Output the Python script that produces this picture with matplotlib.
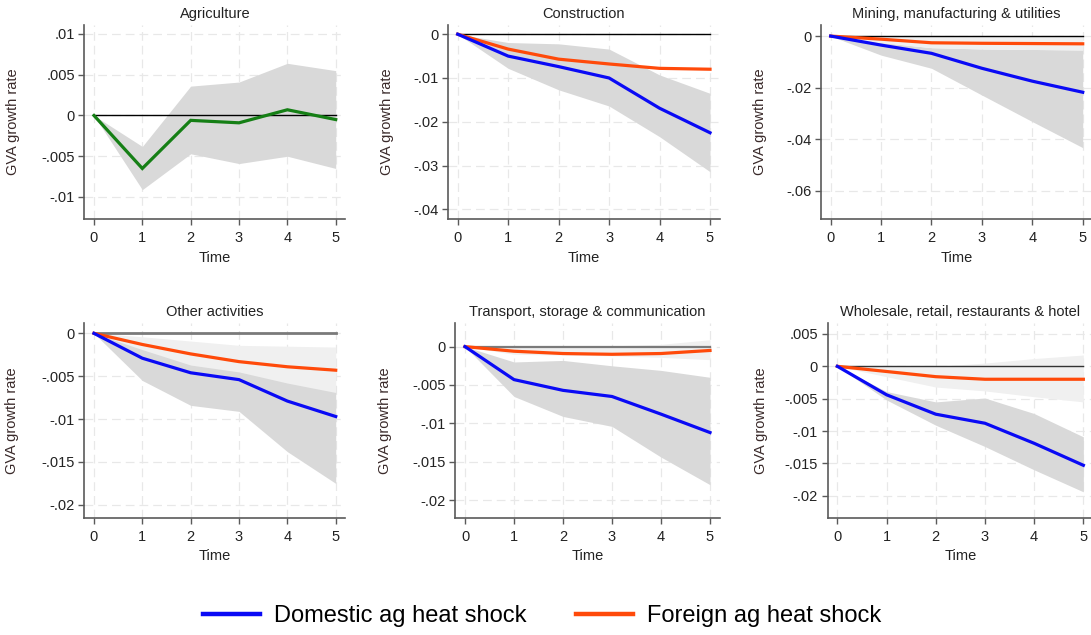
import matplotlib
matplotlib.use("Agg")
import matplotlib.pyplot as plt
from matplotlib.lines import Line2D
from matplotlib.ticker import FixedLocator, FuncFormatter

plt.rcParams['font.family'] = ['Liberation Sans', 'DejaVu Sans']
plt.rcParams['axes.unicode_minus'] = False

# ---------------- data ----------------
time = [0, 1, 2, 3, 4, 5]

# Agriculture (single estimate with CI)
agri_est = [0, -0.0065, -0.0006, -0.0009, 0.0007, -0.0005]
agri_hi = [0, -0.0038, 0.0036, 0.0041, 0.0064, 0.0055]
agri_lo = [0, -0.0091, -0.0047, -0.0059, -0.0050, -0.0065]

# Construction
con_dom = [0, -0.0050, -0.0074, -0.0100, -0.0169, -0.0225]
con_dom_hi = [0, -0.0019, -0.0022, -0.0034, -0.0093, -0.0135]
con_dom_lo = [0, -0.0078, -0.0127, -0.0164, -0.0234, -0.0314]
con_for = [0, -0.0034, -0.0057, -0.0068, -0.0078, -0.0080]

# Mining, manufacturing & utilities
min_dom = [0, -0.0035, -0.0067, -0.0125, -0.0175, -0.0218]
min_dom_hi = [0, -0.0025, -0.0045, -0.0050, -0.0052, -0.0054]
min_dom_lo = [0, -0.0074, -0.0125, -0.0229, -0.0332, -0.0433]
min_for = [0, -0.0012, -0.0026, -0.0028, -0.0029, -0.0030]
min_for_hi = [0, 0.0002, 0.0002, 0.0002, 0.0002, 0.0002]
min_for_lo = [0, -0.0025, -0.0045, -0.0050, -0.0052, -0.0054]

# Other activities
oth_dom = [0, -0.0029, -0.0046, -0.0054, -0.0079, -0.0097]
oth_dom_hi = [0, -0.0015, -0.0030, -0.0040, -0.0050, -0.0060]
oth_dom_lo = [0, -0.0055, -0.0084, -0.0091, -0.0138, -0.0175]
oth_for = [0, -0.0013, -0.0024, -0.0033, -0.0039, -0.0043]
oth_for_hi = [0, -0.0004, -0.0009, -0.0014, -0.0015, -0.0016]
oth_for_lo = [0, -0.0019, -0.0037, -0.0045, -0.0058, -0.0069]

# Transport, storage & communication
tra_dom = [0, -0.0043, -0.0057, -0.0065, -0.0088, -0.0112]
tra_dom_hi = [0, -0.0020, -0.0018, -0.0025, -0.0031, -0.0040]
tra_dom_lo = [0, -0.0065, -0.0091, -0.0104, -0.0144, -0.0180]
tra_for = [0, -0.0006, -0.0009, -0.0010, -0.0009, -0.0005]
tra_for_hi = [0, -0.0001, 0.0000, 0.0001, 0.0003, 0.0009]
tra_for_lo = [0, -0.0010, -0.0011, -0.0012, -0.0014, -0.0017]

# Wholesale, retail, restaurants & hotel
who_dom = [0, -0.0044, -0.0074, -0.0088, -0.0119, -0.0153]
who_dom_hi = [0, -0.0039, -0.0055, -0.0049, -0.0073, -0.0109]
who_dom_lo = [0, -0.0052, -0.0091, -0.0124, -0.0160, -0.0194]
who_for = [0, -0.0008, -0.0016, -0.0020, -0.0020, -0.0020]
who_for_hi = [0, 0.0000, 0.0000, 0.0005, 0.0012, 0.00175]
who_for_lo = [0, -0.0016, -0.0032, -0.0038, -0.0047, -0.0055]

titles = ["Agriculture", "Construction", "Mining, manufacturing & utilities",
          "Other activities", "Transport, storage & communication",
          "Wholesale, retail, restaurants & hotel"]
yticks = [
    [0.01, 0.005, 0, -0.005, -0.01],
    [0, -0.01, -0.02, -0.03, -0.04],
    [0, -0.02, -0.04, -0.06],
    [0, -0.005, -0.01, -0.015, -0.02],
    [0, -0.005, -0.01, -0.015, -0.02],
    [0.005, 0, -0.005, -0.01, -0.015, -0.02],
]
legend_labels = ["Domestic ag heat shock", "Foreign ag heat shock"]

# ---------------- style / layout ----------------
W, H = 1091, 635
BLUE = "#0a0af5"
ORANGE = "#ff4a0a"
GREEN = "#157f15"
DARK_CI = "#d9d9d9"
LIGHT_CI = "#f0f0f0"
FS = 10.5

# pixel rectangles (left, right, top, bottom)
rects = [
    (84.3, 345.4, 25, 219),
    (447.6, 720.1, 25, 219),
    (820.6, 1092.8, 25, 219),
    (84.3, 345.4, 323.3, 517.7),
    (455.2, 719.8, 323.3, 517.7),
    (827.5, 1093.2, 323.3, 517.7),
]
ylabel_x_px = [20, 394, 767, 19, 392, 768]
ylims = [(-0.0127, 0.0111), (-0.0422, 0.0021), (-0.071, 0.0043),
         (-0.0215, 0.00117), (-0.0223, 0.00304), (-0.0234, 0.00665)]
zero_style = [("black", 1.0), ("black", 1.0), ("black", 1.0),
              ("#7a7a7a", 2.0), ("#7a7a7a", 1.6), ("#333333", 1.0)]


def stata_fmt(v, pos=None):
    if abs(v) < 1e-12:
        return "0"
    s = f"{v:g}"
    return s.replace("0.", ".")


fig = plt.figure(figsize=(W / 100, H / 100), dpi=100)
fig.patch.set_facecolor("white")

panels = [
    dict(est=None),
    dict(dom=con_dom, dom_hi=con_dom_hi, dom_lo=con_dom_lo, fo=con_for, fo_hi=None, fo_lo=None),
    dict(dom=min_dom, dom_hi=min_dom_hi, dom_lo=min_dom_lo, fo=min_for, fo_hi=min_for_hi, fo_lo=min_for_lo),
    dict(dom=oth_dom, dom_hi=oth_dom_hi, dom_lo=oth_dom_lo, fo=oth_for, fo_hi=oth_for_hi, fo_lo=oth_for_lo),
    dict(dom=tra_dom, dom_hi=tra_dom_hi, dom_lo=tra_dom_lo, fo=tra_for, fo_hi=tra_for_hi, fo_lo=tra_for_lo),
    dict(dom=who_dom, dom_hi=who_dom_hi, dom_lo=who_dom_lo, fo=who_for, fo_hi=who_for_hi, fo_lo=who_for_lo),
]

for i, (rect, p) in enumerate(zip(rects, panels)):
    L, R, T, B = rect
    ax = fig.add_axes([L / W, 1 - B / H, (R - L) / W, (B - T) / H])
    ax.set_xlim(-0.2, 5.2)
    ax.set_ylim(*ylims[i])
    ax.xaxis.set_major_locator(FixedLocator(time))
    ax.yaxis.set_major_locator(FixedLocator(yticks[i]))
    ax.yaxis.set_major_formatter(FuncFormatter(stata_fmt))
    ax.grid(True, color="#e8e8e8", linestyle=(0, (7, 4)), linewidth=0.9, zorder=0)
    ax.set_axisbelow(True)
    for s in ("top", "right"):
        ax.spines[s].set_visible(False)
    for s in ("left", "bottom"):
        ax.spines[s].set_color("#5a5a5a")
        ax.spines[s].set_linewidth(1.2)
    ax.tick_params(axis="both", direction="out", length=4.3, width=1.0, color="#5a5a5a",
                   labelsize=FS, labelcolor="#222222")
    ax.tick_params(axis="x", pad=4.5)
    ax.tick_params(axis="y", pad=2.5)
    ax.set_title(titles[i], fontsize=FS, color="#222222", pad=5)
    ax.set_xlabel("Time", fontsize=FS, color="#222222", labelpad=4)
    ax.set_ylabel("GVA growth rate", fontsize=FS, color="#3a2a2a")
    ax.yaxis.set_label_coords((ylabel_x_px[i] - L) / (R - L), 0.5)

    zc, zw = zero_style[i]
    if i == 0:
        ax.fill_between(time, agri_lo, agri_hi, color=DARK_CI, lw=0, zorder=1)
        ax.plot([0, 5], [0, 0], color=zc, lw=zw, zorder=3)
        ax.plot(time, agri_est, color=GREEN, lw=2.3, zorder=4, solid_joinstyle="miter")
    else:
        ax.fill_between(time, p["dom_lo"], p["dom_hi"], color=DARK_CI, lw=0, zorder=1)
        if p["fo_hi"] is not None:
            ax.fill_between(time, p["fo_lo"], p["fo_hi"], color=LIGHT_CI, lw=0, zorder=2)
        ax.plot([0, 5], [0, 0], color=zc, lw=zw, zorder=3)
        ax.plot(time, p["fo"], color=ORANGE, lw=2.3, zorder=4)
        ax.plot(time, p["dom"], color=BLUE, lw=2.3, zorder=5)

handles = [Line2D([], [], color=BLUE, lw=3.2), Line2D([], [], color=ORANGE, lw=3.2)]
fig.legend(handles, legend_labels, loc="center", bbox_to_anchor=(542 / W, 1 - 616 / H),
           ncol=2, frameon=False, fontsize=17, handlelength=2.4, handletextpad=0.6,
           columnspacing=2.1)

fig.savefig("out.png", dpi=100, facecolor="white")
